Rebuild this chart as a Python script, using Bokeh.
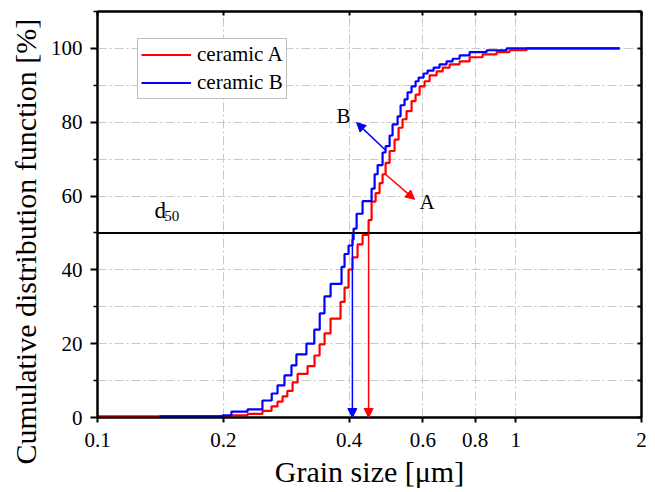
from bokeh.plotting import figure
from bokeh.models import (FixedTicker, LinearAxis, LogAxis, Legend, LegendItem, Span, Title,
                          Arrow, NormalHead, CustomJSTickFormatter)
from bokeh.core.properties import value
from bokeh.embed import file_html
from bokeh.resources import INLINE

# ---------------- data ----------------
a_size = [0.1, 0.2093, 0.2285, 0.2481, 0.2607, 0.2695, 0.2771, 0.2844, 0.2928, 0.3010,
          0.3180, 0.3304, 0.3397, 0.3492, 0.3609, 0.3813, 0.3898, 0.3985, 0.4074, 0.4188,
          0.4305, 0.4450, 0.4524, 0.4625, 0.4727, 0.4806, 0.4887, 0.4996, 0.5135, 0.5249,
          0.5365, 0.5484, 0.5638, 0.5764, 0.5893, 0.6057, 0.6226, 0.6471, 0.6690, 0.6953,
          0.7345, 0.7762, 0.8340, 0.9006, 0.9674, 1.0624, 1.774]
a_cdf = [0.3, 0.6, 1.0, 1.8, 3.0, 4.3, 5.7, 7.2, 9.5, 11.8,
         13.9, 16.8, 19.8, 22.8, 26.8, 31.3, 35.2, 40.1, 43.4, 46.9,
         49.5, 53.5, 58.5, 60.8, 63.5, 65.9, 69.0, 72.2, 75.3, 78.5,
         80.8, 83.0, 85.7, 87.5, 89.7, 91.1, 92.7, 93.8, 94.8, 95.7,
         96.5, 97.6, 98.4, 99.0, 99.5, 100.0, 100.0]

b_size = [0.1406, 0.199, 0.209, 0.2285, 0.248, 0.261, 0.2695, 0.280, 0.291, 0.299,
          0.316, 0.330, 0.340, 0.349, 0.361, 0.3834, 0.3898, 0.3985, 0.4074, 0.4097,
          0.4166, 0.4305, 0.4524, 0.4600, 0.4677, 0.4806, 0.4887, 0.4996, 0.5078, 0.5220,
          0.5307, 0.5424, 0.5515, 0.5638, 0.5764, 0.5860, 0.6024, 0.6158, 0.6366, 0.6579,
          0.6838, 0.7069, 0.7345, 0.7762, 0.8524, 0.9517, 1.774]
b_cdf = [0.3, 0.6, 1.6, 2.2, 4.6, 6.5, 8.7, 11.4, 14.1, 17.1,
         20.0, 23.8, 28.2, 32.8, 36.2, 40.8, 44.3, 46.6, 48.2, 51.2,
         55.2, 58.6, 62.0, 65.9, 68.4, 71.8, 73.5, 76.4, 79.4, 81.6,
         84.6, 86.2, 88.1, 89.7, 91.1, 92.1, 93.2, 94.0, 94.8, 95.7,
         96.5, 97.2, 98.1, 99.0, 99.5, 100.0, 100.0]

d50_level = 50
d50_a = 0.445
d50_b = 0.407

x_ticks = [0.1, 0.2, 0.4, 0.6, 0.8, 1, 2]
x_tick_labels = ["0.1", "0.2", "0.4", "0.6", "0.8", "1", "2"]
y_ticks = [0, 20, 40, 60, 80, 100]
y_minor = [10, 30, 50, 70, 90, 110]

# ---------------- figure ----------------
FONT = "Liberation Serif"
p = figure(x_axis_type="log", x_range=(0.1, 2), y_range=(0, 110),
           frame_width=544, frame_height=406,
           min_border_left=97, min_border_right=6, min_border_top=11, min_border_bottom=68,
           output_backend="svg", toolbar_location=None,
           background_fill_color="white", border_fill_color="white")
p.outline_line_color = "black"
p.outline_line_width = 2

xt = FixedTicker(ticks=x_ticks, minor_ticks=[])
yt = FixedTicker(ticks=y_ticks, minor_ticks=y_minor)
overrides = {t: l for t, l in zip(x_ticks, x_tick_labels)}
fmt = CustomJSTickFormatter(code="return tick.toString();")
blank = CustomJSTickFormatter(code="return '';")

xa = p.xaxis[0]
xa.ticker = xt
xa.formatter = fmt
xa.major_label_overrides = overrides
xa.axis_label = "Grain size [μm]"
ya = p.yaxis[0]
ya.ticker = yt

for ax in (xa, ya):
    ax.axis_line_width = 2
    ax.axis_line_color = "black"
    ax.major_tick_line_color = "black"
    ax.minor_tick_line_color = "black"
    ax.major_tick_line_width = 2
    ax.minor_tick_line_width = 1.5
    ax.major_label_text_font = FONT
    ax.major_label_text_font_size = "21px"
    ax.major_label_text_color = "black"
    ax.axis_label_text_font = FONT
    ax.axis_label_text_font_style = "normal"
    ax.axis_label_text_font_size = "30px"
    ax.axis_label_text_color = "black"

xa.major_tick_in = 0
xa.major_tick_out = 5
xa.major_label_standoff = 10
xa.axis_label_standoff = 5
ya.major_tick_in = 0
ya.major_tick_out = 7
ya.minor_tick_in = 0
ya.minor_tick_out = 4
ya.major_label_standoff = 8

top = LogAxis(ticker=xt, formatter=blank, major_tick_in=4, major_tick_out=0,
              minor_tick_in=0, minor_tick_out=0,
              axis_line_width=2, major_tick_line_width=2, major_label_standoff=0)
right = LinearAxis(ticker=yt, formatter=blank, major_tick_in=4, major_tick_out=0,
                   minor_tick_in=4, minor_tick_out=0,
                   axis_line_width=2, major_tick_line_width=2, minor_tick_line_width=2,
                   major_label_standoff=0)
p.add_layout(top, "above")
p.add_layout(right, "right")

# y axis title, placed like the original (starting below the frame bottom)
p.add_layout(Title(text="Cumulative distribution function [%]", align="left", offset=-47,
                   text_font=FONT, text_font_size="30px", text_font_style="normal",
                   text_color="black", standoff=12), "left")

grid_col = "#c8c8c8"
p.xgrid.grid_line_color = grid_col
p.xgrid.grid_line_dash = "9 3 2 3"
p.xgrid.grid_line_width = 1
p.ygrid.grid_line_color = grid_col
p.ygrid.grid_line_dash = "9 3 2 3"
p.ygrid.minor_grid_line_color = grid_col
p.ygrid.minor_grid_line_dash = "9 3 2 3"

# ---------------- curves ----------------
ra = p.step(a_size, a_cdf, mode="after", line_color="#ff0000", line_width=2.2)
rb = p.step(b_size, b_cdf, mode="after", line_color="#0000ff", line_width=2.2)

p.add_layout(Span(location=d50_level, dimension="width", line_color="black", line_width=2))

# vertical arrows to d50 sizes
p.add_layout(Arrow(x_start=d50_b, y_start=d50_level, x_end=d50_b, y_end=0,
                   line_color="#0000ff", line_width=1.5,
                   end=NormalHead(size=9, fill_color="#0000ff", line_color="#0000ff")))
p.add_layout(Arrow(x_start=d50_a, y_start=d50_level, x_end=d50_a, y_end=0,
                   line_color="#ff0000", line_width=1.5,
                   end=NormalHead(size=9, fill_color="#ff0000", line_color="#ff0000")))
# label arrows
p.add_layout(Arrow(x_start=0.4887, y_start=72.4, x_end=0.4166, y_end=79.9,
                   line_color="#0000ff", line_width=1.5,
                   end=NormalHead(size=9, fill_color="#0000ff", line_color="#0000ff")))
p.add_layout(Arrow(x_start=0.486, y_start=66.1, x_end=0.5733, y_end=59.1,
                   line_color="#ff0000", line_width=1.5,
                   end=NormalHead(size=9, fill_color="#ff0000", line_color="#ff0000")))

p.text(x=[0.3731], y=[81.7], text=["B"], text_font=value(FONT), text_font_size="21px",
       text_color="black", text_baseline="alphabetic", text_align="left")
p.text(x=[0.5893], y=[58.3], text=["A"], text_font=value(FONT), text_font_size="21px",
       text_color="black", text_baseline="alphabetic", text_align="left")
p.text(x=[0.1369], y=[56.0], text=["d"], text_font=value(FONT), text_font_size="23px",
       text_color="black", text_baseline="alphabetic", text_align="left")
p.text(x=[0.1445], y=[54.7], text=["50"], text_font=value(FONT), text_font_size="15px",
       text_color="black", text_baseline="alphabetic", text_align="left")

legend = Legend(items=[LegendItem(label="ceramic A", renderers=[ra]),
                       LegendItem(label="ceramic B", renderers=[rb])],
                location=(40, 318), glyph_width=50, glyph_height=23, label_height=23,
                label_standoff=6, padding=3, spacing=3, margin=0,
                label_text_font=FONT, label_text_font_size="21px", label_text_color="black",
                border_line_color="#808080", border_line_width=1,
                background_fill_color="white", background_fill_alpha=1)
p.add_layout(legend)

open("out.html", "w").write(file_html(p, INLINE))
